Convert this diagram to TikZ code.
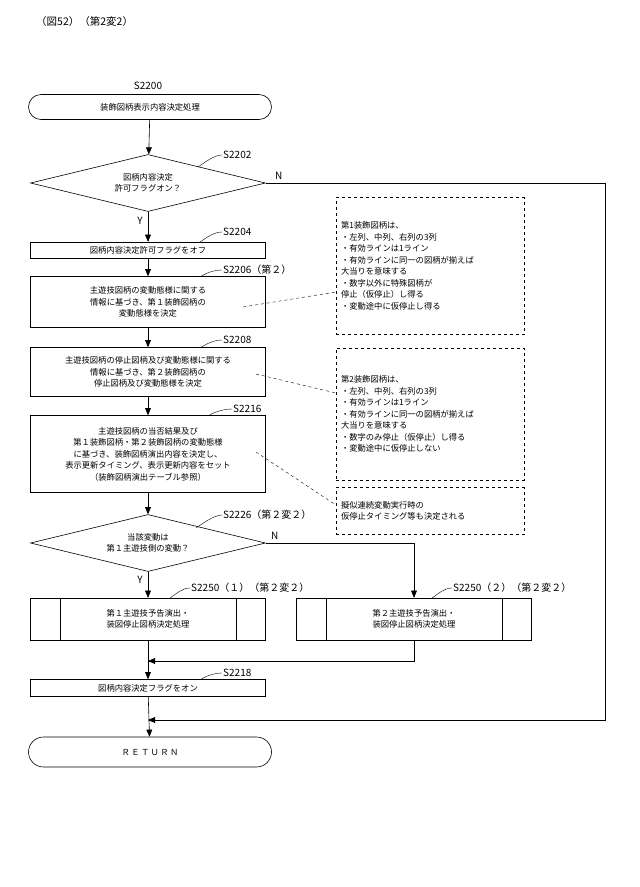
\documentclass[tikz,border=0pt]{standalone}
\usepackage{fontspec}
\setmainfont{Noto Sans CJK JP}
\usetikzlibrary{positioning, arrows, shapes.geometric, shapes.misc}
\tikzstyle{arrow} = [semithick,->,>=triangle 45]

\begin{document}
\begin{tikzpicture}[x=1pt,y=-1pt,font=\fontsize{8.3}{11.5}\selectfont]
    \tikzstyle{every node}=[inner sep=1pt]
    \tikzstyle{proc} = [draw, semithick, minimum width=235pt, align=center]
    \tikzstyle{term} = [draw, semithick, rounded rectangle, minimum width=245pt, align=center]
    \tikzstyle{decide} = [draw, semithick, diamond, aspect=4.1, minimum width=235pt, minimum height=57pt, inner sep=0pt, align=center]
    \tikzstyle{memo} = [draw, dashed, minimum width=188pt, align=left, text width=178pt]
    \tikzstyle{steplbl} = [font=\fontsize{10}{11}\selectfont, anchor=west]
    \tikzstyle{leader} = [dashed]

    \useasboundingbox (0,0) rectangle (640,887);

    \node[anchor=west] (title) at (35,22) {\fontsize{10.5}{11}\selectfont（図52）（第2変2）};

    \node[term, minimum height=25pt] (start) at (150,107) {装飾図柄表示内容決定処理};
    \node[font=\fontsize{10}{11}\selectfont] (l2200) at (148,86) {S2200};

    \node[decide] (d1) at (148,183) {図柄内容決定\\許可フラグオン？};
    \node[proc, minimum height=16pt] (s2204) at (148,250) {図柄内容決定許可フラグをオフ};
    \node[proc, minimum height=51pt] (s2206) at (148,302) {主遊技図柄の変動態様に関する\\情報に基づき、第１装飾図柄の\\変動態様を決定};
    \node[proc, minimum height=49pt] (s2208) at (148,372) {主遊技図柄の停止図柄及び変動態様に関する\\情報に基づき、第２装飾図柄の\\停止図柄及び変動態様を決定};
    \node[proc, minimum height=77pt] (s2216) at (148,454) {主遊技図柄の当否結果及び\\第１装飾図柄・第２装飾図柄の変動態様\\に基づき、装飾図柄演出内容を決定し、\\表示更新タイミング、表示更新内容をセット\\（装飾図柄演出テーブル参照）};
    \node[decide] (d2) at (148,543) {当該変動は\\第１主遊技側の変動？};
    \node[proc, minimum height=42pt] (p1) at (148,619) {第１主遊技予告演出・\\装図停止図柄決定処理};
    \node[proc, minimum height=42pt] (p2) at (414,619) {第２主遊技予告演出・\\装図停止図柄決定処理};
    \node[proc, minimum height=17pt] (s2218) at (148,688) {図柄内容決定フラグをオン};
    \node[term, minimum height=30pt] (ret) at (150,752) {Ｒ\,Ｅ\,Ｔ\,Ｕ\,Ｒ\,Ｎ};

    % side bars of the subroutine boxes
    \foreach \b in {p1,p2} {
        \draw[semithick] ([xshift=30pt]\b.north west) -- ([xshift=30pt]\b.south west);
        \draw[semithick] ([xshift=-30pt]\b.north east) -- ([xshift=-30pt]\b.south east);
    }

    % step labels
    \node[steplbl] (l2202) at (222,155) {S2202};
    \node[steplbl] (l2204) at (222,232) {S2204};
    \node[steplbl] (l2206) at (222,270) {S2206（第２）};
    \node[steplbl] (l2208) at (222,340) {S2208};
    \node[steplbl] (l2216) at (232,409) {S2216};
    \node[steplbl] (l2226) at (222,515) {S2226（第２変２）};
    \node[steplbl] (l2250a) at (190,588) {S2250（１）（第２変２）};
    \node[steplbl] (l2250b) at (452,588) {S2250（２）（第２変２）};
    \node[steplbl] (l2218) at (222,673) {S2218};
    \foreach \l/\x/\y in {l2202/198/167, l2204/200/242, l2206/200/277, l2208/200/348, l2216/208/416, l2226/196/528, l2250a/170/598, l2250b/432/598, l2218/200/680}
        \draw (\l.west) .. controls ++(-8,0) and ++(6,-4) .. (\x,\y);

    % notes
    \node[memo, minimum height=137pt] (m1) at (430,266) {第1装飾図柄は、\\・左列、中列、右列の3列\\・有効ラインは1ライン\\・有効ラインに同一の図柄が揃えば\\大当りを意味する\\・数字以外に特殊図柄が\\停止（仮停止）し得る\\・変動途中に仮停止し得る};
    \node[memo, minimum height=132pt] (m2) at (430,414) {第2装飾図柄は、\\・左列、中列、右列の3列\\・有効ラインは1ライン\\・有効ラインに同一の図柄が揃えば\\大当りを意味する\\・数字のみ停止（仮停止）し得る\\・変動途中に仮停止しない};
    \node[memo, minimum height=47pt] (m3) at (430,511) {擬似連続変動実行時の\\仮停止タイミング等も決定される};
    \coordinate (c1) at (243,307);
    \coordinate (c2) at (256,374);
    \coordinate (c3) at (256,452);
    \draw[leader] (c1) -- (m1.west |- 0,292);
    \draw[leader] (c2) -- (m2.west |- 0,393);
    \draw[leader] (c3) -- (m3.west |- 0,505);

    % flow
    \draw[arrow] (start) -- (d1);
    \draw[arrow] (d1) -- (s2204) node[pos=0.3, left=4pt] {\fontsize{10}{11}\selectfont Y};
    \draw[arrow] (s2204) -- (s2206);
    \draw[arrow] (s2206) -- (s2208);
    \draw[arrow] (s2208) -- (s2216);
    \draw[arrow] (s2216) -- (d2);
    \draw[arrow] (d2) -- (p1) node[pos=0.3, left=4pt] {\fontsize{10}{11}\selectfont Y};
    \draw[arrow] (d2.east) node[above right=2pt and 4pt] {\fontsize{10}{11}\selectfont N} -| (p2.north);
    \coordinate (j1) at (148,661);
    \coordinate (j2) at (148,720);
    \draw[arrow] (p1) -- (s2218);
    \draw[arrow] (p2.south) |- (j1);
    \draw[arrow] (s2218) -- (ret);
    \draw[arrow] (d1.east) node[above right=2pt and 8pt] {\fontsize{10}{11}\selectfont N} -- (605,183) -- (605,720) -- (j2);
\end{tikzpicture}
\end{document}
